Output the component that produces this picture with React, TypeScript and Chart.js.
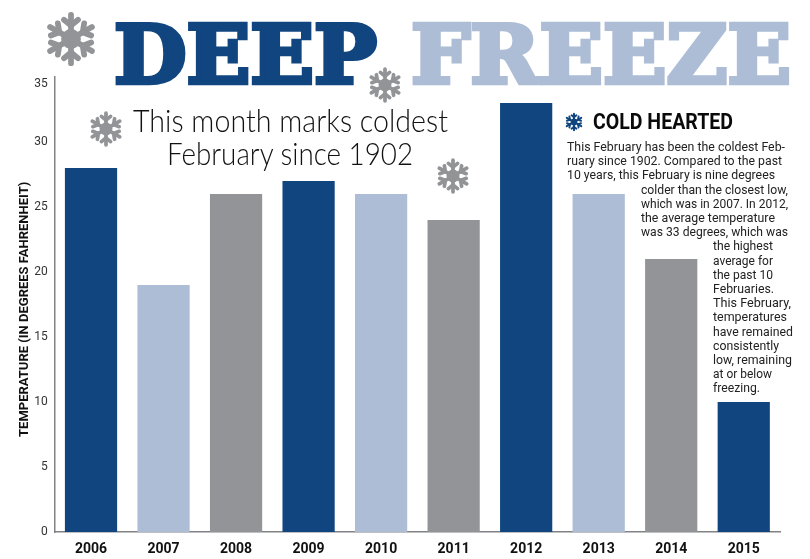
import React, { useEffect, useRef } from "react";
import { Chart, registerables } from "chart.js";

Chart.register(...registerables);

const years = ["2006", "2007", "2008", "2009", "2010", "2011", "2012", "2013", "2014", "2015"];
const temperatures = [28, 19, 26, 27, 26, 24, 33, 26, 21, 10];
const DARK = "#10457f";
const LIGHT = "#adbdd6";
const GREY = "#929497";
const barColors = [DARK, LIGHT, GREY, DARK, LIGHT, GREY, DARK, LIGHT, GREY, DARK];
const yTicks = [0, 5, 10, 15, 20, 25, 30, 35];
const yAxisTitle = "TEMPERATURE (IN DEGREES FAHRENHEIT)   ";

const bodyLines = [
  "This February has been the coldest Feb-",
  "ruary since 1902. Compared to the past",
  "10 years, this February is nine degrees",
  "colder than the closest low,",
  "which was in 2007. In 2012,",
  "the average temperature",
  "was 33 degrees, which was",
  "the highest",
  "average for",
  "the past 10",
  "Februaries.",
  "This February,",
  "temperatures",
  "have remained",
  "consistently",
  "low, remaining",
  "at or below",
  "freezing.",
];
const bodyX = [567, 567, 567, 641, 641, 641, 641, 713, 713, 713, 713, 713, 713, 713, 713, 713, 713, 713];
const bodyW = [218, 215, 208, 147, 147, 134, 147, 60, 60, 60, 61, 78, 74, 80, 66, 79, 59, 47];

function Flake({ cx, cy, r, color }: { cx: number; cy: number; r: number; color: string }) {
  const arms = [0, 60, 120, 180, 240, 300];
  const sw = r * 0.22;
  return (
    <g transform={`translate(${cx} ${cy})`} stroke={color} strokeWidth={sw} strokeLinecap="round" fill="none">
      <circle r={r * 0.38} fill={color} stroke="none" />
      {arms.map((a) => (
        <g key={a} transform={`rotate(${a})`}>
          <line x1={0} y1={0} x2={0} y2={-r * 0.93} />
          <line x1={0} y1={-r * 0.52} x2={-r * 0.27} y2={-r * 0.74} />
          <line x1={0} y1={-r * 0.52} x2={r * 0.27} y2={-r * 0.74} />
        </g>
      ))}
    </g>
  );
}

export default function App() {
  const ref = useRef<HTMLCanvasElement>(null);
  useEffect(() => {
    const chart = new Chart(ref.current!, {
      type: "bar",
      data: {
        labels: years,
        datasets: [
          {
            data: temperatures,
            backgroundColor: barColors,
            barPercentage: 0.72,
            categoryPercentage: 1,
          },
        ],
      },
      options: {
        responsive: false,
        animation: false,
        layout: { padding: { top: 77, right: 30, left: 0, bottom: 0 } },
        plugins: { legend: { display: false }, tooltip: { enabled: false } },
        scales: {
          x: {
            grid: { display: false, drawTicks: false },
            border: { color: "#808285", width: 1.5 },
            ticks: {
              color: "#111",
              padding: 9,
              maxRotation: 0,
              font: { family: "Roboto", weight: "bold", size: 14 },
            },
            afterFit: (s: any) => {
              s.height = 27;
            },
          },
          y: {
            min: 0,
            max: 35,
            afterBuildTicks: (s: any) => {
              s.ticks = yTicks.map((value) => ({ value }));
            },
            grid: { display: false, drawTicks: false },
            border: { color: "#808285", width: 1.5 },
            ticks: {
              color: "#333",
              padding: 7,
              font: { family: "Roboto", size: 12 },
              callback: (v: any) => (v === 35 ? ["", "35"] : String(v)),
            },
            title: {
              display: true,
              text: yAxisTitle,
              color: "#111",
              font: { family: "Roboto", weight: "bold", size: 13 },
              padding: { top: 17, bottom: 0 },
            },
            afterFit: (s: any) => {
              s.width = 54.75;
            },
          },
        },
      },
    });
    return () => chart.destroy();
  }, []);

  const slab = "'DejaVu Serif', serif";
  return (
    <div style={{ position: "absolute", left: 0, top: 0, width: 810, height: 559, background: "#fff" }}>
      <canvas ref={ref} width={810} height={559} style={{ display: "block" }} />
      <svg width={810} height={559} style={{ position: "absolute", left: 0, top: 0, pointerEvents: "none" }}>
        <text x={114} y={83} fontFamily={slab} fontWeight="bold" fontSize={80} fill={DARK} stroke={DARK} strokeWidth={4.5} strokeLinejoin="miter" textLength={263} lengthAdjust="spacingAndGlyphs">DEEP</text>
        <text x={411} y={83} fontFamily={slab} fontWeight="bold" fontSize={81} fill={LIGHT} stroke={LIGHT} strokeWidth={4.5} strokeLinejoin="miter" textLength={380} lengthAdjust="spacingAndGlyphs">FREEZE</text>
        <Flake cx={71} cy={39} r={26} color={GREY} />
        <Flake cx={385} cy={85} r={17} color={GREY} />
        <Flake cx={106} cy={129} r={17} color={GREY} />
        <Flake cx={453} cy={176} r={17} color={GREY} />
        <Flake cx={574} cy={122} r={9} color={DARK} />
        <text x={133} y={132} fontFamily="Lato" fontWeight={300} fontSize={31} fill="#111" textLength={315} lengthAdjust="spacingAndGlyphs">This month marks coldest</text>
        <text x={167} y={165} fontFamily="Lato" fontWeight={300} fontSize={31} fill="#111" textLength={246} lengthAdjust="spacingAndGlyphs">February since 1902</text>
        <text x={593} y={129} fontFamily="Roboto" fontWeight="bold" fontSize={22} fill="#0a0a0a" textLength={140} lengthAdjust="spacingAndGlyphs">COLD HEARTED</text>
        {bodyLines.map((t, i) => (
          <text key={i} x={bodyX[i]} y={151 + i * 14.2} fontFamily="Roboto" fontSize={13.5} fill="#222" textLength={bodyW[i]} lengthAdjust="spacingAndGlyphs">{t}</text>
        ))}
      </svg>
    </div>
  );
}
